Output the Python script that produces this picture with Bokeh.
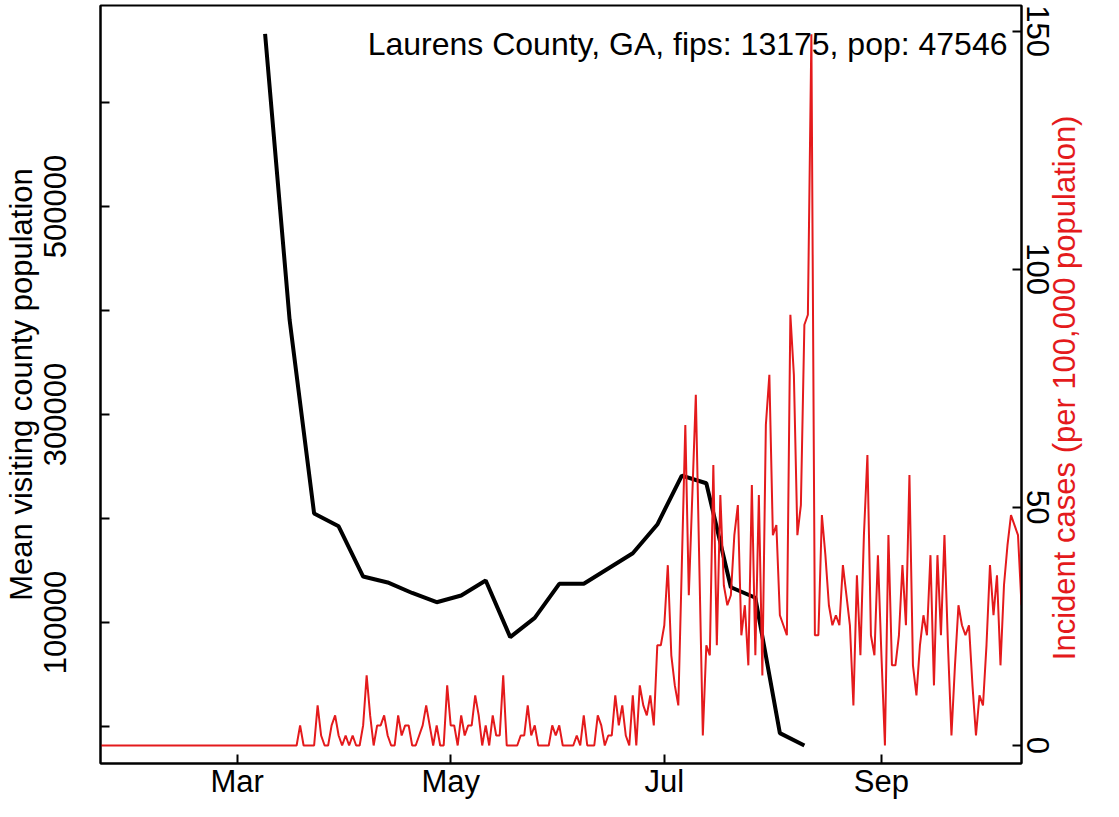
import math
import pandas as pd
from bokeh.plotting import figure
from bokeh.models import Range1d, LinearAxis, FixedTicker, Label
from bokeh.embed import file_html
from bokeh.resources import INLINE

RED = "#E41A1C"
FONT = "Liberation Sans"
FS = "31px"

county_text = "Laurens County, GA, fips: 13175, pop: 47546"
left_title = "Mean visiting county population"
right_title = "Incident cases (per 100,000 population)"

# weekly mean visiting county population (black line)
week_dates = pd.date_range("2020-03-09", periods=23, freq="7D")
visiting_pop = [666000, 391000, 204800, 192500, 144200, 138500, 128400, 119500,
                126000, 140400, 85900, 104500, 137200, 137200, 151900, 166600,
                194200, 241300, 233900, 133900, 123800, -6400, -18300]

# daily incident cases per 100,000 (red line), from 2020-01-22
incident = [
    # Jan 22 - Mar 18
    0, 0, 0, 0, 0, 0, 0, 0, 0, 0,
    0, 0, 0, 0, 0, 0, 0, 0, 0, 0, 0, 0, 0, 0, 0, 0, 0, 0, 0, 0, 0, 0, 0, 0, 0, 0, 0, 0, 0,
    0, 0, 0, 0, 0, 0, 0, 0, 0, 0, 0, 0, 0, 0, 0, 0, 0, 0,
    # Mar 19 - 31
    4.21, 0, 0, 0, 0, 8.41, 2.10, 0, 0, 4.21, 6.31, 2.10, 0,
    # Apr
    2.10, 0, 2.10, 0, 0, 4.21, 14.72, 6.31, 0, 4.21, 4.21, 6.31, 2.10, 0, 0,
    6.31, 2.10, 4.21, 4.21, 0, 0, 2.10, 4.21, 8.41, 4.21, 0, 4.21, 0, 0, 12.62,
    # May
    4.21, 4.21, 0, 6.31, 2.10, 4.21, 4.21, 10.52, 6.31, 0, 4.21, 0, 6.31, 2.10, 2.10,
    14.72, 0, 0, 0, 0, 2.10, 2.10, 8.41, 2.10, 4.21, 0, 0, 0, 0, 4.21, 2.10,
    # Jun
    4.21, 0, 0, 0, 0, 2.10, 0, 6.31, 0, 0, 0, 6.31, 4.21, 0, 2.10,
    2.10, 10.52, 4.21, 8.41, 2.10, 0, 10.52, 0, 12.62, 8.41, 6.31, 10.52, 4.21, 21.03, 21.03,
    # Jul
    25.24, 37.86, 18.93, 12.62, 8.41, 37.86, 67.30, 31.55, 52.58, 73.61, 37.86, 2.10, 21.03, 18.93, 58.89,
    21.03, 52.58, 33.65, 29.45, 31.55, 44.17, 50.48, 23.14, 29.45, 16.83, 54.68, 18.93, 52.58, 14.72, 67.30, 77.82,
    # Aug
    44.17, 46.27, 27.34, 25.24, 23.14, 90.44, 77.82, 44.17, 50.48, 88.33, 90.44, 149.33, 23.14, 23.14, 48.37,
    39.96, 29.45, 25.24, 27.34, 25.24, 37.86, 31.55, 25.24, 8.41, 35.75, 18.93, 44.17, 60.99, 23.14, 18.93, 39.96,
    # Sep
    18.93, 0, 44.17, 16.83, 16.83, 23.14, 37.86, 25.24, 56.79, 16.83, 10.52, 21.03, 27.34, 23.14, 39.96,
    12.62, 39.96, 23.14, 44.17, 21.03, 2.10, 16.83, 29.45, 25.24, 23.14, 25.24, 12.62, 2.10, 10.52, 8.41,
    # Oct 1 - 11
    21.03, 37.86, 27.34, 35.75, 16.83, 33.65, 42.06, 48.37, 46.27, 44.17, 29.45,
]
case_dates = pd.date_range("2020-01-22", periods=len(incident), freq="D")

month_ticks = ["2020-03-01", "2020-05-01", "2020-07-01", "2020-09-01"]
month_labels = ["Mar", "May", "Jul", "Sep"]
left_ticks = [0, 100000, 200000, 300000, 400000, 500000, 600000]
left_labels = ["", "100000", "", "300000", "", "500000", ""]
right_ticks = [0, 50, 100, 150]
right_labels = ["0", "50", "100", "150"]

p = figure(width=1103, height=801, x_axis_type="datetime",
           x_range=Range1d(pd.Timestamp("2020-01-22"), pd.Timestamp("2020-10-11")),
           y_range=Range1d(-35577, 693269),
           output_backend="svg", toolbar_location=None,
           min_border_left=98, min_border_right=82, min_border_top=5, min_border_bottom=38)
p.extra_y_ranges = {"cases": Range1d(-3.78, 155.36)}

p.xgrid.visible = False
p.ygrid.visible = False
p.outline_line_color = "black"
p.outline_line_width = 2
p.background_fill_color = "white"
p.border_fill_color = "white"

p.line(week_dates, visiting_pop, line_color="black", line_width=4)
p.line(case_dates, incident, line_color=RED, line_width=2, y_range_name="cases")

def style_axis(ax):
    ax.axis_line_color = "black"
    ax.axis_line_width = 2
    ax.major_tick_line_color = "black"
    ax.major_tick_line_width = 2
    ax.major_tick_in = 9
    ax.major_tick_out = 0
    ax.minor_tick_line_color = None
    ax.major_label_text_font = FONT
    ax.major_label_text_font_size = FS
    ax.major_label_text_color = "black"

# bottom axis
xa = p.xaxis[0]
tick_ms = [pd.Timestamp(t).value // 10**6 for t in month_ticks]
xa.ticker = FixedTicker(ticks=tick_ms)
xa.major_label_overrides = {t: lab for t, lab in zip(tick_ms, month_labels)}
style_axis(xa)
xa.major_label_standoff = 0

# left axis
ya = p.yaxis[0]
ya.ticker = FixedTicker(ticks=left_ticks)
ya.major_label_overrides = {t: lab for t, lab in zip(left_ticks, left_labels)}
style_axis(ya)
ya.major_label_orientation = "vertical"
ya.major_label_standoff = 34
ya.axis_label = left_title
ya.axis_label_text_font = FONT
ya.axis_label_text_font_size = FS
ya.axis_label_text_font_style = "normal"
ya.axis_label_text_color = "black"
ya.axis_label_standoff = 3

# right axis
ra = LinearAxis(y_range_name="cases", ticker=FixedTicker(ticks=right_ticks))
ra.major_label_overrides = {t: lab for t, lab in zip(right_ticks, right_labels)}
style_axis(ra)
ra.major_label_orientation = "vertical"
ra.major_label_standoff = 5
ra.axis_label_text_font = FONT
ra.axis_label_text_font_size = FS
ra.axis_label_text_font_style = "normal"
ra.axis_label_text_color = RED
props = ra.properties()
if "axis_label_orientation" in props and "axis_label_align" in props:
    # reading bottom-to-top, anchored at the bottom of the axis, lifted by non-breaking spaces
    ra.axis_label = "\u00a0" * 12 + right_title
    ra.axis_label_orientation = math.pi / 2
    ra.axis_label_align = "start"
    ra.axis_label_standoff = 13
else:
    ra.axis_label = right_title
    ra.axis_label_standoff = 2
p.add_layout(ra, "right")

p.add_layout(Label(x=907, y=720, x_units="screen", y_units="screen", text=county_text,
                   text_align="right", text_baseline="alphabetic",
                   text_color="black", text_font=FONT, text_font_size="32px"))

open("out.html", "w").write(file_html(p, INLINE))
